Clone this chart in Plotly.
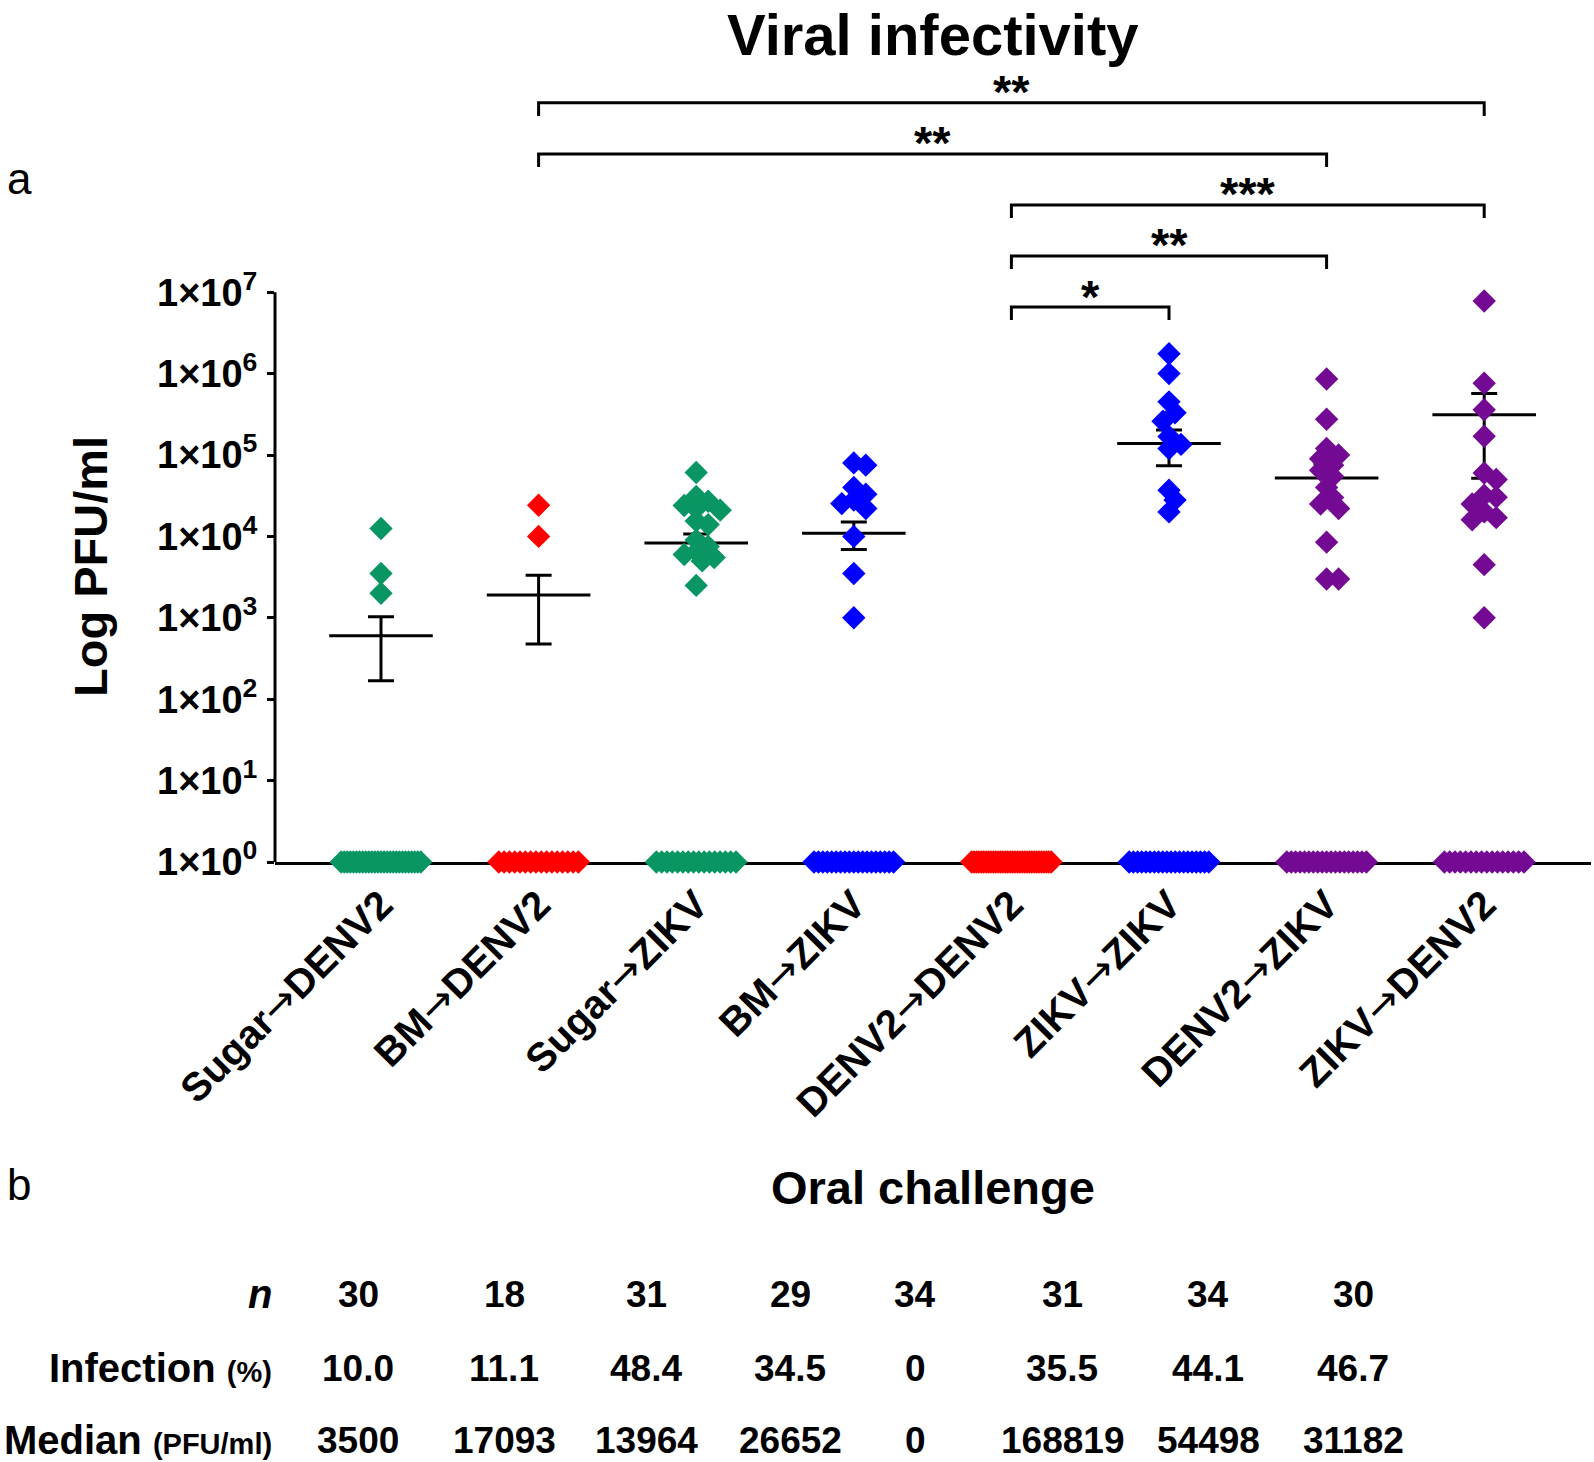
import numpy as np
import plotly.graph_objects as go

# groups (oral challenge order) and their colours
ARROW = "<span style='font-family:DejaVu Sans;font-weight:normal'>→</span>"
groups = ["Sugar→DENV2", "BM→DENV2", "Sugar→ZIKV", "BM→ZIKV",
          "DENV2→DENV2", "ZIKV→ZIKV", "DENV2→ZIKV", "ZIKV→DENV2"]
group_colors = ["#0A9662", "#FF0000", "#0A9662", "#0000FF",
                "#FF0000", "#0000FF", "#740A94", "#740A94"]

# mosquitoes tested per group (uninfected ones are plotted on the 1x10^0 floor)
n_mosquitoes = [30, 18, 31, 29, 34, 31, 34, 30]

# titers (PFU/ml) of the infected mosquitoes
sugar_denv2 = [12500, 3500, 2000]
bm_denv2 = [24186, 10000]
sugar_zikv = [61000, 31000, 27000, 24000, 22000, 21000, 15500, 13964,
              9000, 7500, 6500, 6000, 5500, 5000, 2500]
bm_zikv = [80000, 75000, 40000, 33000, 28000, 25304, 22000, 10000, 3500, 1000]
denv2_denv2 = []
zikv_zikv = [1750000, 1000000, 450000, 330000, 260000, 168819, 135000,
             120000, 37000, 28000, 20000]
denv2_zikv = [860000, 275000, 120000, 100000, 90000, 75000, 65000, 54498,
              40000, 30000, 25000, 22000, 8500, 3000, 3000]
zikv_denv2 = [7800000, 760000, 360000, 170000, 60000, 50000, 32000, 30364,
              25000, 20000, 17000, 16000, 4500, 1000]
titers = [sugar_denv2, bm_denv2, sugar_zikv, bm_zikv,
          denv2_denv2, zikv_zikv, denv2_zikv, zikv_denv2]

# table (panel b)
infection_pct = ["10.0", "11.1", "48.4", "34.5", "0", "35.5", "44.1", "46.7"]
median_pfu = ["3500", "17093", "13964", "26652", "0", "168819", "54498", "31182"]

# significance comparisons, listed from the lowest bracket up
comparisons = [(4, 5, "*"), (4, 6, "**"), (4, 7, "***"), (1, 6, "**"), (1, 7, "**")]

y_tickvals = [1e0, 1e1, 1e2, 1e3, 1e4, 1e5, 1e6, 1e7]
y_ticktext = ["1×10<sup>%d</sup>" % k for k in range(8)]

# ---- layout geometry (pixels) ----
W, H = 1594, 1462
PLOT_L, PLOT_R, PLOT_T, PLOT_B = 275, 1591, 40, 862
CAT_W = 157.6       # px per category
DEC_H = 81.4        # px per decade
FONT = "Liberation Sans, Arial, Helvetica, sans-serif"
X_RANGE = [(PLOT_L - 381) / CAT_W, (PLOT_R - 381) / CAT_W]
Y_RANGE = [0, (PLOT_B - PLOT_T) / DEC_H]


def px_x(p):
    return (p - PLOT_L) / (PLOT_R - PLOT_L)


def px_y(p):
    return (PLOT_B - p) / (PLOT_B - PLOT_T)


def swarm_offsets(vals, min_dist=11.0, step=6.0):
    """Column-scatter style offsets so overlapping points sit side by side."""
    order = np.argsort(vals)[::-1]
    placed, offs = [], np.zeros(len(vals))
    for idx in order:
        yy = np.log10(vals[idx]) * DEC_H
        for k in [0, 1, -1, 2, -2, 3, -3, 4, -4]:
            xx = k * step
            if all((xx - a) ** 2 + (yy - b) ** 2 >= min_dist ** 2 for a, b in placed):
                break
        placed.append((xx, yy))
        offs[idx] = xx / CAT_W
    return offs


fig = go.Figure()

for i, (vals, n, col) in enumerate(zip(titers, n_mosquitoes, group_colors)):
    vals = np.array(vals, dtype=float)
    n_zero = n - len(vals)
    full = np.concatenate([vals, np.zeros(n_zero)])
    mean = full.mean()
    sem = full.std(ddof=1) / np.sqrt(n)

    # mean +/- SEM
    if mean > 0:
        fig.add_trace(go.Scatter(
            x=[i], y=[mean], mode="markers",
            marker=dict(symbol="line-ew", size=74, color="black",
                        line=dict(color="black", width=3)),
            error_y=dict(type="data", array=[sem], color="black",
                         thickness=3, width=13),
            showlegend=False, hoverinfo="skip",
        ))

    # uninfected mosquitoes on the floor of the axis
    if n_zero:
        fig.add_trace(go.Scatter(
            x=i + np.linspace(-0.2525, 0.2525, n_zero), y=np.ones(n_zero),
            mode="markers", cliponaxis=False,
            marker=dict(symbol="diamond", size=18, color=col, line=dict(width=0)),
            showlegend=False, hoverinfo="skip",
        ))

    # infected mosquitoes
    if len(vals):
        fig.add_trace(go.Scatter(
            x=i + swarm_offsets(vals), y=vals, mode="markers", cliponaxis=False,
            marker=dict(symbol="diamond", size=18, color=col, line=dict(width=0)),
            showlegend=False, hoverinfo="skip",
        ))

# significance brackets
BR_BASE, BR_STEP, BR_DROP = 6.818, 0.627, 0.16
annotations = []
for lvl, (a, b, label) in enumerate(comparisons):
    top = BR_BASE + lvl * BR_STEP
    fig.add_trace(go.Scatter(
        x=[a, a, b, b], y=[10 ** (top - BR_DROP), 10 ** top, 10 ** top, 10 ** (top - BR_DROP)],
        mode="lines", line=dict(color="black", width=3),
        showlegend=False, hoverinfo="skip", cliponaxis=False,
    ))
    annotations.append(dict(
        x=(a + b) / 2, y=top, xref="x", yref="y", text=label, showarrow=False,
        xanchor="center", yanchor="middle", yshift=11,
        font=dict(family=FONT, size=47, color="black", weight="bold"),
    ))

# y-axis line only spans the labelled decades
shapes = [dict(type="line", xref="paper", x0=0, x1=0, yref="y",
               y0=y_tickvals[0], y1=y_tickvals[-1],
               line=dict(color="black", width=3))]


def text_ann(txt, x, y, size, xanchor="center", yanchor="middle", bold=True, angle=0):
    return dict(text=txt, x=px_x(x), y=px_y(y), xref="paper", yref="paper",
                showarrow=False, xanchor=xanchor, yanchor=yanchor,
                textangle=angle,
                font=dict(family=FONT, size=size, color="black",
                          weight="bold" if bold else "normal"))


annotations += [
    text_ann("Viral infectivity", 933, 0, 58, yanchor="top"),
    text_ann("a", 19, 178, 44, bold=False),
    text_ann("Log PFU/ml", 90, 566, 47, angle=-90),
    text_ann("b", 19, 1184, 44, bold=False),
    text_ann("Oral challenge", 933, 1187, 47),
    text_ann("<i>n</i>", 274, 1294, 40, xanchor="right"),
    text_ann("Infection <span style='font-size:29px'>(%)</span>", 274, 1368, 40, xanchor="right"),
    text_ann("Median <span style='font-size:29px'>(PFU/ml)</span>", 274, 1440, 40, xanchor="right"),
]

col_x = [358, 504, 646, 790, 915, 1062, 1208, 1353]
for cx, n, pct, med in zip(col_x, n_mosquitoes, infection_pct, median_pfu):
    annotations.append(text_ann(str(n), cx, 1294, 37))
    annotations.append(text_ann(pct, cx, 1368, 37))
    annotations.append(text_ann(med, cx, 1440, 37))

fig.update_layout(
    width=W, height=H,
    margin=dict(l=PLOT_L, r=W - PLOT_R, t=PLOT_T, b=H - PLOT_B, pad=0),
    plot_bgcolor="white", paper_bgcolor="white",
    font=dict(family=FONT, color="black"),
    showlegend=False,
    annotations=annotations,
    shapes=shapes,
    xaxis=dict(
        range=X_RANGE, tickvals=list(range(len(groups))),
        ticktext=[g.replace("→", ARROW) for g in groups],
        tickangle=-45, ticks="", showgrid=False, zeroline=False,
        showline=True, linecolor="black", linewidth=3, layer="below traces",
        tickfont=dict(family=FONT, size=40, color="black", weight="bold"),
    ),
    yaxis=dict(
        type="log", range=Y_RANGE, tickvals=y_tickvals, ticktext=y_ticktext,
        ticks="outside", ticklen=7, tickwidth=3, tickcolor="black",
        showgrid=False, zeroline=False, showline=False, ticklabelstandoff=2,
        tickfont=dict(family=FONT, size=38, color="black", weight="bold"),
    ),
)

# page body margin would otherwise offset the whole figure by 8px
fig.write_html("out.html", config={"displayModeBar": False},
               post_script="document.body.style.margin='0';")
